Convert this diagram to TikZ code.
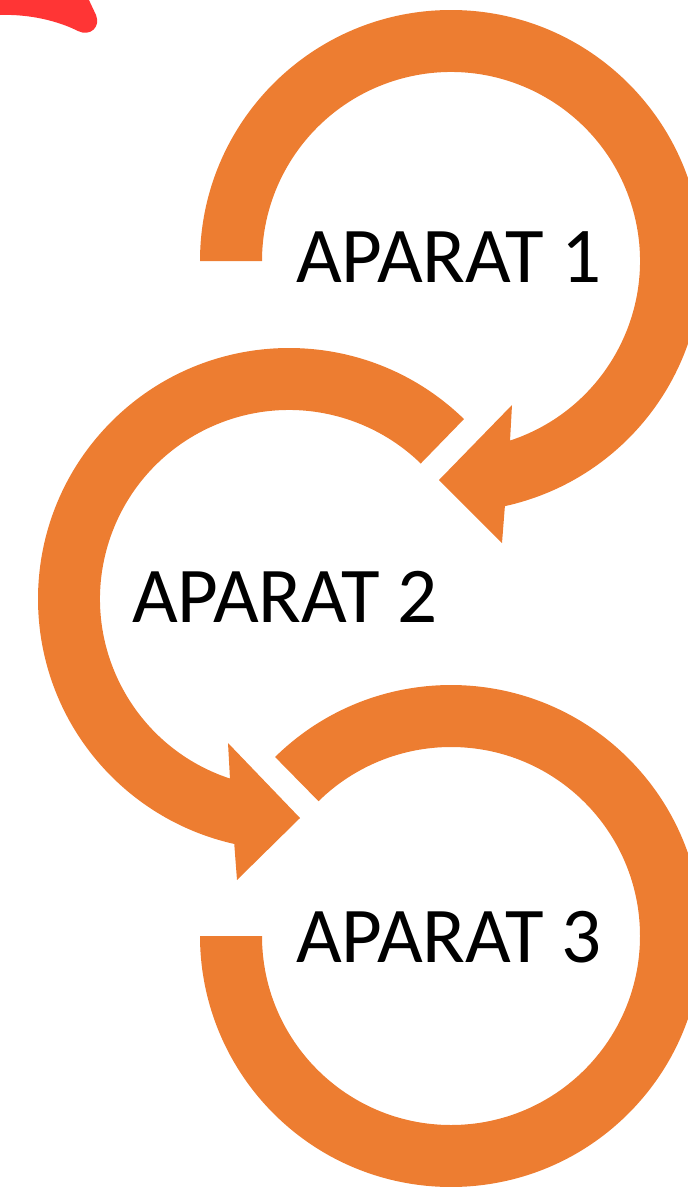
\documentclass[tikz,border=0pt]{standalone}
\usepackage{fontspec}
\setmainfont{Carlito}
\usetikzlibrary{calc}
\definecolor{ringorange}{HTML}{ED7D31}
\definecolor{blobred}{HTML}{FF3535}
\begin{document}
\begin{tikzpicture}[x=1pt,y=1pt,
  ring/.style={fill=ringorange,draw=none},
  label/.style={font=\fontsize{79}{92}\selectfont,text=black,inner sep=0pt,anchor=base west}]
\useasboundingbox (0,0) rectangle (688,-1189);
\clip (0,0) rectangle (688,-1189);
\coordinate (C1) at (451,-261);
\coordinate (C2) at (289,-599);
\coordinate (C3) at (451,-936);
% red blob top left
\fill[blobred] (0,2) -- (0,-15) .. controls (30,-14) and (58,-21) .. (78,-31)
  .. controls (90,-37) and (101,-27) .. (96,-15) -- (88,2) -- cycle;
% ring 1 with arrowhead
\fill[ring] ($(C1)+(180:251)$) arc[start angle=180,end angle=-77.6,radius=251]
  -- (502,-543) -- (439,-480) -- (512,-405)
  -- ($(C1)+(-71.8:189)$) arc[start angle=-71.8,end angle=180,radius=189] -- cycle;
% ring 2 with arrowhead
\fill[ring] ($(C2)+(45.8:251)$) arc[start angle=45.8,end angle=257.4,radius=251]
  -- (237,-880) -- (300,-818) -- (228,-743)
  -- ($(C2)+(251.8:189)$) arc[start angle=251.8,end angle=45.8,radius=189] -- cycle;
% ring 3
\fill[ring] ($(C3)+(134.5:251)$) arc[start angle=134.5,end angle=-180,radius=251]
  -- ($(C3)+(-180:189)$) arc[start angle=-180,end angle=134.5,radius=189] -- cycle;
\node[label] (t1) at (296,-282) {APARAT 1};
\node[label] (t2) at (132,-622) {APARAT 2};
\node[label] (t3) at (296,-962) {APARAT 3};
\end{tikzpicture}
\end{document}
